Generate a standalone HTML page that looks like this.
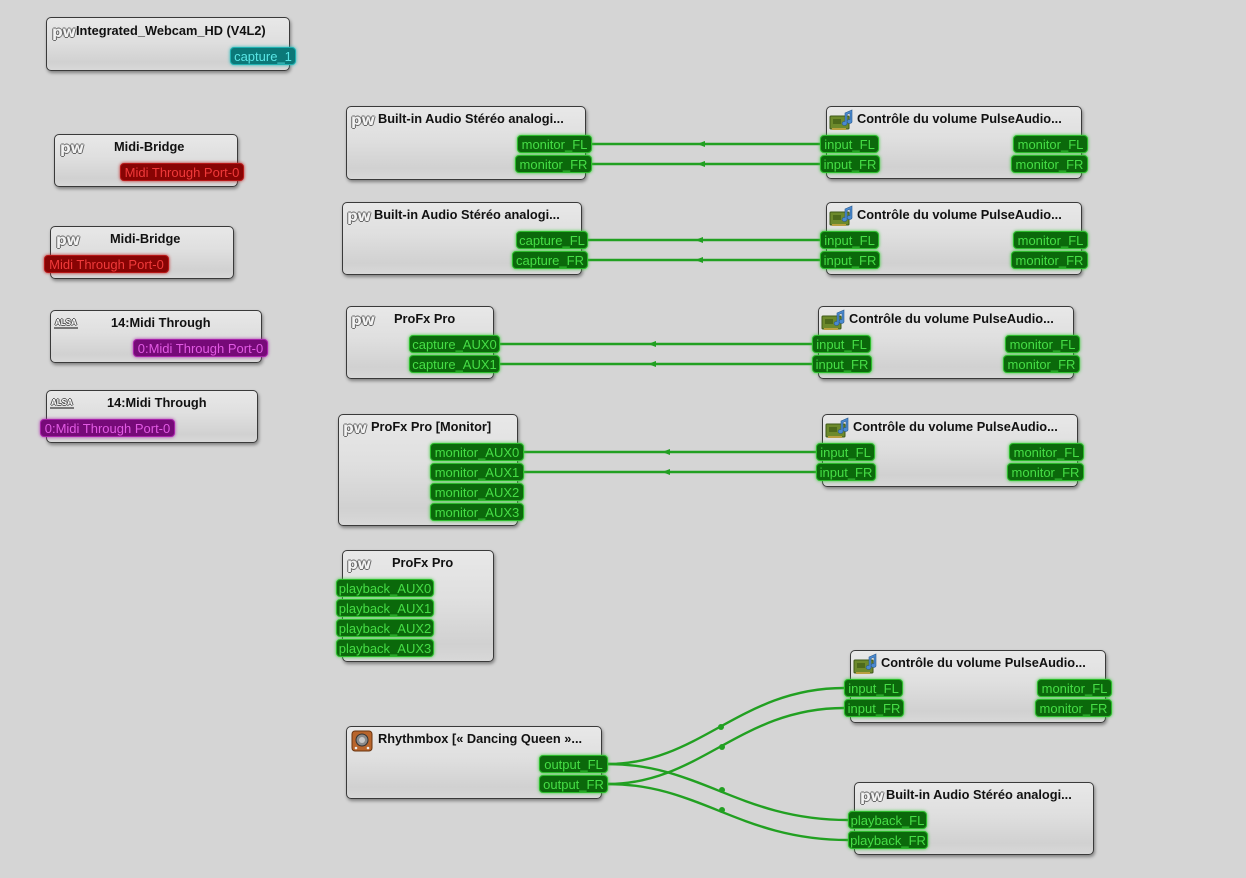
<!DOCTYPE html>
<html><head><meta charset="utf-8"><style>
html,body{margin:0;padding:0;}
body{width:1246px;height:878px;background:#d5d5d5;position:relative;overflow:hidden;font-family:"Liberation Sans",sans-serif;}
.n{position:absolute;border:1px solid #3a3a3a;border-radius:5px;box-sizing:border-box;
background:linear-gradient(180deg,#e8e8e8 0%,#dfdfdf 45%,#d1d1d1 85%,#d8d8d8 100%);
box-shadow:1px 2px 3px rgba(0,0,0,0.4);z-index:1;}
.t{position:absolute;font-weight:bold;font-size:12.8px;line-height:16px;color:#111;white-space:nowrap;z-index:3;}
.p{position:absolute;height:18px;line-height:17px;box-sizing:border-box;border-radius:4px;font-size:13px;text-align:center;white-space:nowrap;z-index:3;overflow:hidden;}
.g{background:#0b690b;border:1px solid #2cbc2c;color:#46de46;box-shadow:0 0 3px #3acc3a;}
.r{background:#880404;border:1px solid #b81818;color:#f03a3a;box-shadow:0 0 3px #c02020;}
.m{background:#760a78;border:1px solid #a823aa;color:#e25ae4;box-shadow:0 0 3px #b030b0;}
.c{background:#0b7878;border:1px solid #1fb0b0;color:#5ae6e6;box-shadow:0 0 3px #22bbbb;}
.pw{position:absolute;font-size:15px;font-weight:bold;line-height:16px;color:#f2f2f2;font-family:"DejaVu Sans","Liberation Sans",sans-serif;
text-shadow:-1px 0 #666,1px 0 #666,0 -1px #666,0 1px #666;z-index:3;letter-spacing:-0.5px;}
.al{position:absolute;font-size:8px;font-weight:bold;line-height:9px;color:#fff;z-index:3;
text-shadow:-1px 0 #555,1px 0 #555,0 -1px #555,0 1px #555;border-bottom:2px solid #777;padding:0 1px;}
svg{position:absolute;left:0;top:0;z-index:2;}
.ic{position:absolute;z-index:3;}
</style></head><body>

<svg width="1246" height="878" viewBox="0 0 1246 878">
<g stroke="#22a022" stroke-width="2.4" fill="none">
<path d="M592 144 L820 144"/>
<path d="M592 164 L820 164"/>
<path d="M588 240 L820 240"/>
<path d="M588 260 L820 260"/>
<path d="M500 344 L812 344"/>
<path d="M500 364 L812 364"/>
<path d="M524 452 L816 452"/>
<path d="M524 472 L816 472"/>
<path d="M608 764 C 700 764, 740 688, 844 688"/>
<path d="M608 784 C 700 784, 740 708, 844 708"/>
<path d="M608 764 C 700 764, 740 820, 848 820"/>
<path d="M608 784 C 700 784, 740 840, 848 840"/>
</g>
<g fill="#22a022">
<path d="M697 144 l8 -3 l0 6 z"/>
<path d="M697 164 l8 -3 l0 6 z"/>
<path d="M695 240 l8 -3 l0 6 z"/>
<path d="M695 260 l8 -3 l0 6 z"/>
<path d="M648 344 l8 -3 l0 6 z"/>
<path d="M648 364 l8 -3 l0 6 z"/>
<path d="M662 452 l8 -3 l0 6 z"/>
<path d="M662 472 l8 -3 l0 6 z"/>
<circle cx="721" cy="727" r="3"/>
<circle cx="722" cy="747" r="3"/>
<circle cx="722" cy="790" r="3"/>
<circle cx="722" cy="810" r="3"/>
</g>
</svg>

<!-- 1 Webcam -->
<div class="n" style="left:46px;top:17px;width:244px;height:54px"></div>
<div class="pw" style="left:52px;top:24px">pw</div>
<div class="t" style="left:76px;top:23px">Integrated_Webcam_HD (V4L2)</div>
<div class="p c" style="left:230px;top:47px;width:66px">capture_1</div>

<!-- 2 Midi-Bridge -->
<div class="n" style="left:54px;top:134px;width:184px;height:53px"></div>
<div class="pw" style="left:60px;top:140px">pw</div>
<div class="t" style="left:114px;top:139px">Midi-Bridge</div>
<div class="p r" style="left:120px;top:163px;width:124px">Midi Through Port-0</div>

<!-- 3 Midi-Bridge -->
<div class="n" style="left:50px;top:226px;width:184px;height:53px"></div>
<div class="pw" style="left:56px;top:232px">pw</div>
<div class="t" style="left:110px;top:231px">Midi-Bridge</div>
<div class="p r" style="left:44px;top:255px;width:125px">Midi Through Port-0</div>

<!-- 4 14:Midi Through -->
<div class="n" style="left:50px;top:310px;width:212px;height:53px"></div>
<div class="al" style="left:54px;top:318px">ALSA</div>
<div class="t" style="left:111px;top:315px">14:Midi Through</div>
<div class="p m" style="left:133px;top:339px;width:135px">0:Midi Through Port-0</div>

<!-- 5 14:Midi Through -->
<div class="n" style="left:46px;top:390px;width:212px;height:53px"></div>
<div class="al" style="left:50px;top:398px">ALSA</div>
<div class="t" style="left:107px;top:395px">14:Midi Through</div>
<div class="p m" style="left:40px;top:419px;width:135px">0:Midi Through Port-0</div>

<!-- 6 Built-in monitor -->
<div class="n" style="left:346px;top:106px;width:240px;height:74px"></div>
<div class="pw" style="left:351px;top:112px">pw</div>
<div class="t" style="left:378px;top:111px">Built-in Audio Stéréo analogi...</div>
<div class="p g" style="left:517px;top:135px;width:75px">monitor_FL</div>
<div class="p g" style="left:515px;top:155px;width:77px">monitor_FR</div>

<!-- 7 Built-in capture -->
<div class="n" style="left:342px;top:202px;width:240px;height:73px"></div>
<div class="pw" style="left:347px;top:208px">pw</div>
<div class="t" style="left:374px;top:207px">Built-in Audio Stéréo analogi...</div>
<div class="p g" style="left:516px;top:231px;width:72px">capture_FL</div>
<div class="p g" style="left:512px;top:251px;width:76px">capture_FR</div>

<!-- 8 Controle 1 -->
<div class="n" style="left:826px;top:106px;width:256px;height:73px"></div>
<svg class="ic" style="left:829px;top:109px" width="26" height="22" viewBox="0 0 26 22"><rect x="1" y="7" width="19" height="13" rx="1" fill="#6d8a2c" stroke="#3f5a18"/><rect x="4" y="10" width="8" height="5" fill="#4d6a1c"/><rect x="3" y="19" width="14" height="2" fill="#b8a040"/><path d="M16 4 L23 1 L23 12 A2.5 2 0 1 1 21 10.5 L21 4 L18 5.5 L18 14 A2.5 2 0 1 1 16 12.5 Z" fill="#4a8ad0" stroke="#2a5a90" stroke-width="0.6"/></svg>
<div class="t" style="left:857px;top:111px">Contrôle du volume PulseAudio...</div>
<div class="p g" style="left:820px;top:135px;width:59px">input_FL</div>
<div class="p g" style="left:820px;top:155px;width:60px">input_FR</div>
<div class="p g" style="left:1013px;top:135px;width:75px">monitor_FL</div>
<div class="p g" style="left:1011px;top:155px;width:77px">monitor_FR</div>

<!-- 9 Controle 2 -->
<div class="n" style="left:826px;top:202px;width:256px;height:73px"></div>
<svg class="ic" style="left:829px;top:205px" width="26" height="22" viewBox="0 0 26 22"><rect x="1" y="7" width="19" height="13" rx="1" fill="#6d8a2c" stroke="#3f5a18"/><rect x="4" y="10" width="8" height="5" fill="#4d6a1c"/><rect x="3" y="19" width="14" height="2" fill="#b8a040"/><path d="M16 4 L23 1 L23 12 A2.5 2 0 1 1 21 10.5 L21 4 L18 5.5 L18 14 A2.5 2 0 1 1 16 12.5 Z" fill="#4a8ad0" stroke="#2a5a90" stroke-width="0.6"/></svg>
<div class="t" style="left:857px;top:207px">Contrôle du volume PulseAudio...</div>
<div class="p g" style="left:820px;top:231px;width:59px">input_FL</div>
<div class="p g" style="left:820px;top:251px;width:60px">input_FR</div>
<div class="p g" style="left:1013px;top:231px;width:75px">monitor_FL</div>
<div class="p g" style="left:1011px;top:251px;width:77px">monitor_FR</div>

<!-- 10 ProFx Pro capture -->
<div class="n" style="left:346px;top:306px;width:148px;height:73px"></div>
<div class="pw" style="left:351px;top:312px">pw</div>
<div class="t" style="left:394px;top:311px">ProFx Pro</div>
<div class="p g" style="left:409px;top:335px;width:91px">capture_AUX0</div>
<div class="p g" style="left:409px;top:355px;width:91px">capture_AUX1</div>

<!-- 11 Controle 3 -->
<div class="n" style="left:818px;top:306px;width:256px;height:73px"></div>
<svg class="ic" style="left:821px;top:309px" width="26" height="22" viewBox="0 0 26 22"><rect x="1" y="7" width="19" height="13" rx="1" fill="#6d8a2c" stroke="#3f5a18"/><rect x="4" y="10" width="8" height="5" fill="#4d6a1c"/><rect x="3" y="19" width="14" height="2" fill="#b8a040"/><path d="M16 4 L23 1 L23 12 A2.5 2 0 1 1 21 10.5 L21 4 L18 5.5 L18 14 A2.5 2 0 1 1 16 12.5 Z" fill="#4a8ad0" stroke="#2a5a90" stroke-width="0.6"/></svg>
<div class="t" style="left:849px;top:311px">Contrôle du volume PulseAudio...</div>
<div class="p g" style="left:812px;top:335px;width:59px">input_FL</div>
<div class="p g" style="left:812px;top:355px;width:60px">input_FR</div>
<div class="p g" style="left:1005px;top:335px;width:75px">monitor_FL</div>
<div class="p g" style="left:1003px;top:355px;width:77px">monitor_FR</div>

<!-- 12 ProFx Pro Monitor -->
<div class="n" style="left:338px;top:414px;width:180px;height:112px"></div>
<div class="pw" style="left:343px;top:420px">pw</div>
<div class="t" style="left:371px;top:419px">ProFx Pro [Monitor]</div>
<div class="p g" style="left:430px;top:443px;width:94px">monitor_AUX0</div>
<div class="p g" style="left:430px;top:463px;width:94px">monitor_AUX1</div>
<div class="p g" style="left:430px;top:483px;width:94px">monitor_AUX2</div>
<div class="p g" style="left:430px;top:503px;width:94px">monitor_AUX3</div>

<!-- 13 Controle 4 -->
<div class="n" style="left:822px;top:414px;width:256px;height:73px"></div>
<svg class="ic" style="left:825px;top:417px" width="26" height="22" viewBox="0 0 26 22"><rect x="1" y="7" width="19" height="13" rx="1" fill="#6d8a2c" stroke="#3f5a18"/><rect x="4" y="10" width="8" height="5" fill="#4d6a1c"/><rect x="3" y="19" width="14" height="2" fill="#b8a040"/><path d="M16 4 L23 1 L23 12 A2.5 2 0 1 1 21 10.5 L21 4 L18 5.5 L18 14 A2.5 2 0 1 1 16 12.5 Z" fill="#4a8ad0" stroke="#2a5a90" stroke-width="0.6"/></svg>
<div class="t" style="left:853px;top:419px">Contrôle du volume PulseAudio...</div>
<div class="p g" style="left:816px;top:443px;width:59px">input_FL</div>
<div class="p g" style="left:816px;top:463px;width:60px">input_FR</div>
<div class="p g" style="left:1009px;top:443px;width:75px">monitor_FL</div>
<div class="p g" style="left:1007px;top:463px;width:77px">monitor_FR</div>

<!-- 14 ProFx Pro playback -->
<div class="n" style="left:342px;top:550px;width:152px;height:112px"></div>
<div class="pw" style="left:347px;top:556px">pw</div>
<div class="t" style="left:392px;top:555px">ProFx Pro</div>
<div class="p g" style="left:336px;top:579px;width:98px">playback_AUX0</div>
<div class="p g" style="left:336px;top:599px;width:98px">playback_AUX1</div>
<div class="p g" style="left:336px;top:619px;width:98px">playback_AUX2</div>
<div class="p g" style="left:336px;top:639px;width:98px">playback_AUX3</div>

<!-- 15 Controle 5 -->
<div class="n" style="left:850px;top:650px;width:256px;height:73px"></div>
<svg class="ic" style="left:853px;top:653px" width="26" height="22" viewBox="0 0 26 22"><rect x="1" y="7" width="19" height="13" rx="1" fill="#6d8a2c" stroke="#3f5a18"/><rect x="4" y="10" width="8" height="5" fill="#4d6a1c"/><rect x="3" y="19" width="14" height="2" fill="#b8a040"/><path d="M16 4 L23 1 L23 12 A2.5 2 0 1 1 21 10.5 L21 4 L18 5.5 L18 14 A2.5 2 0 1 1 16 12.5 Z" fill="#4a8ad0" stroke="#2a5a90" stroke-width="0.6"/></svg>
<div class="t" style="left:881px;top:655px">Contrôle du volume PulseAudio...</div>
<div class="p g" style="left:844px;top:679px;width:59px">input_FL</div>
<div class="p g" style="left:844px;top:699px;width:60px">input_FR</div>
<div class="p g" style="left:1037px;top:679px;width:75px">monitor_FL</div>
<div class="p g" style="left:1035px;top:699px;width:77px">monitor_FR</div>

<!-- 16 Rhythmbox -->
<div class="n" style="left:346px;top:726px;width:256px;height:73px"></div>
<svg class="ic" style="left:351px;top:730px" width="22" height="22" viewBox="0 0 22 22"><rect x="1" y="1" width="20" height="20" rx="3" fill="#b8652c" stroke="#6a3510"/><circle cx="11" cy="10" r="6" fill="#8a8a8a" stroke="#333"/><circle cx="11" cy="10" r="3" fill="#c8c8c8"/><circle cx="5" cy="18" r="1.3" fill="#eee"/><circle cx="17" cy="18" r="1.3" fill="#eee"/></svg>
<div class="t" style="left:378px;top:731px">Rhythmbox [« Dancing Queen »...</div>
<div class="p g" style="left:539px;top:755px;width:69px">output_FL</div>
<div class="p g" style="left:539px;top:775px;width:69px">output_FR</div>

<!-- 17 Built-in playback -->
<div class="n" style="left:854px;top:782px;width:240px;height:73px"></div>
<div class="pw" style="left:860px;top:788px">pw</div>
<div class="t" style="left:886px;top:787px">Built-in Audio Stéréo analogi...</div>
<div class="p g" style="left:848px;top:811px;width:79px">playback_FL</div>
<div class="p g" style="left:848px;top:831px;width:80px">playback_FR</div>

</body></html>
